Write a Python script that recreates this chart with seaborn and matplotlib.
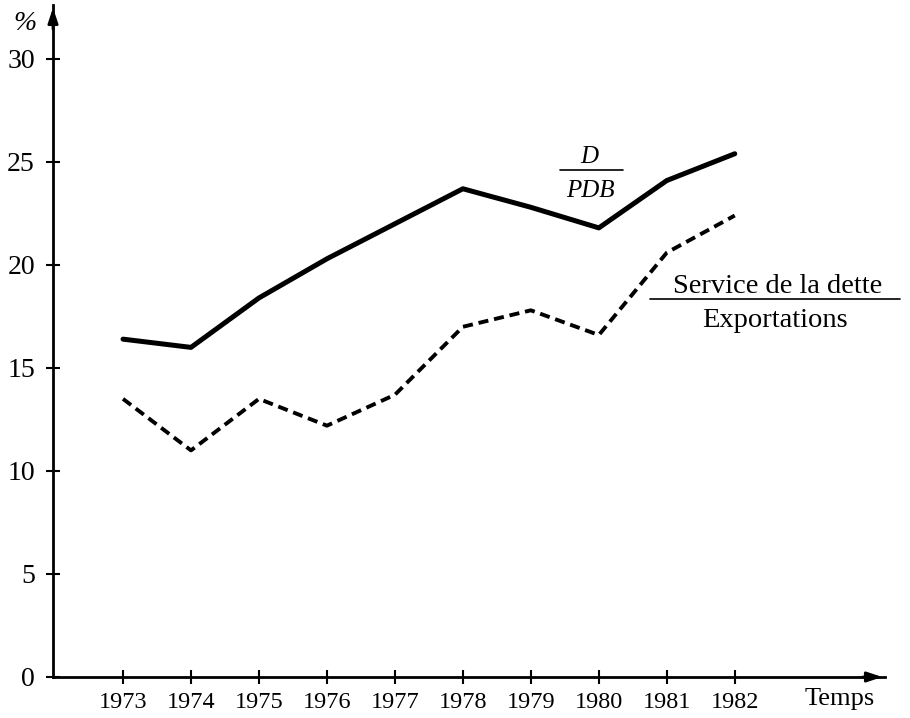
import pandas as pd
import matplotlib.pyplot as plt
import seaborn as sns

years = [1973, 1974, 1975, 1976, 1977, 1978, 1979, 1980, 1981, 1982]
dette_pdb = [16.4, 16.0, 18.4, 20.3, 22.0, 23.7, 22.8, 21.8, 24.1, 25.4]
service_export = [13.5, 11.0, 13.5, 12.2, 13.7, 17.0, 17.8, 16.6, 20.6, 22.4]
y_ticks = [0, 5, 10, 15, 20, 25, 30]

black_rc = {"text.color": "black", "xtick.color": "black", "ytick.color": "black",
            "axes.edgecolor": "black", "axes.labelcolor": "black"}
sns.set_style("ticks", black_rc)
plt.rcParams["font.family"] = ["Liberation Serif", "DejaVu Serif"]

fig = plt.figure(figsize=(9.1, 7.18), dpi=100)
ax = fig.add_axes([53 / 910, 41 / 718, 832 / 910, 672 / 718])

df = pd.DataFrame({"year": years, "pdb": dette_pdb, "service": service_export})
sns.lineplot(x="year", y="pdb", data=df, ax=ax, color="black", linewidth=3.6)
sns.lineplot(x="year", y="service", data=df, ax=ax, color="black",
             linewidth=2.8, linestyle=(0, (2.6, 1.5)))

ax.set_xlim(1971.97, 1984.21)
ax.set_ylim(0, 32.62)
ax.set_xticks(years)
ax.set_yticks(y_ticks)
ax.tick_params(direction="inout", length=10, width=1.5)
ax.tick_params(axis="x", labelsize=17.5, pad=6)
ax.tick_params(axis="y", labelsize=20, pad=8)
ax.set_xlabel("")
ax.set_ylabel("")
sns.despine(ax=ax)
for side in ["left", "bottom"]:
    ax.spines[side].set_linewidth(2)

# axis arrows
arrow = dict(arrowstyle="-|>,head_length=0.9,head_width=0.3", color="black", lw=2)
ax.annotate("", xy=(1.0, 0), xytext=(0.97, 0), xycoords="axes fraction",
            arrowprops=arrow, annotation_clip=False)
ax.annotate("", xy=(0, 1.0), xytext=(0, 0.96), xycoords="axes fraction",
            arrowprops=arrow, annotation_clip=False)

ax.text(-0.034, 0.973, "%", transform=ax.transAxes, ha="center", va="center",
        fontsize=20, style="italic")
ax.text(0.988, -0.0417, "Temps", transform=ax.transAxes, ha="right", va="baseline",
        fontsize=19)

# fraction labels
ax.text(1979.86, 24.95, "D", ha="center", va="baseline", fontsize=18, style="italic")
ax.plot([1979.43, 1980.35], [24.61, 24.61], color="black", linewidth=1.2)
ax.text(1979.88, 23.30, "PDB", ha="center", va="baseline", fontsize=18, style="italic")

ax.text(1982.63, 18.64, "Service de la dette", ha="center", va="baseline", fontsize=20.5)
ax.plot([1980.75, 1984.43], [18.35, 18.35], color="black", linewidth=1.2, clip_on=False)
ax.text(1982.59, 16.99, "Exportations", ha="center", va="baseline", fontsize=20.5)

fig.savefig("out.png", dpi=100)
